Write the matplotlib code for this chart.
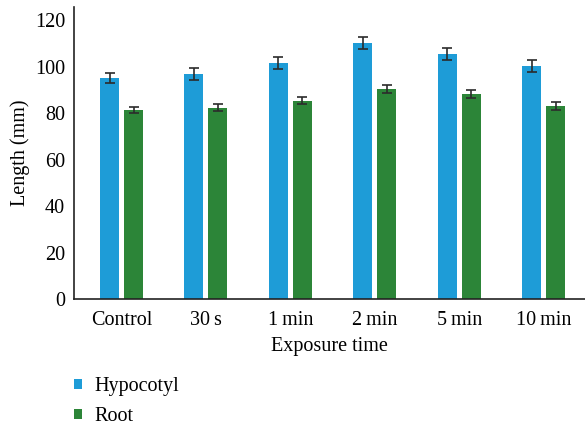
import matplotlib
matplotlib.use("Agg")
import matplotlib.pyplot as plt
import numpy as np

categories = ["Control", "30\u2009s", "1\u2009min", "2\u2009min", "5\u2009min", "10\u2009min"]
hypocotyl = [95.0, 96.8, 101.5, 110.1, 105.4, 100.2]
hypocotyl_err = [2.3, 2.4, 2.5, 2.7, 2.7, 2.5]
root = [81.3, 82.2, 85.2, 90.3, 88.2, 83.0]
root_err = [1.5, 1.5, 1.5, 1.6, 1.6, 1.6]
series_names = ["Hypocotyl", "Root"]
yticks = [0, 20, 40, 60, 80, 100, 120]

plt.rcParams['font.family'] = ['Liberation Serif', 'DejaVu Serif']
FS = 14.5

fig = plt.figure(figsize=(5.85, 4.25), dpi=100)
ax = fig.add_axes([74/585, (425-299)/425, 1 - 74/585, (299-7)/425])

x = np.arange(len(categories))
w = 0.225
off = 0.142
blue = "#1e9cd7"
green = "#2c8538"
ekw = dict(ecolor="#2b2b2b", elinewidth=1.2, capsize=3.3, capthick=1.2)
b1 = ax.bar(x - off, hypocotyl, w, yerr=hypocotyl_err, color=blue, label=series_names[0], error_kw=ekw)
b2 = ax.bar(x + off, root, w, yerr=root_err, color=green, label=series_names[1], error_kw=ekw)

ax.set_xlim(-0.563, 5.49)
ax.set_ylim(0, 125.6)
ax.set_yticks(yticks)
ax.set_yticklabels([str(v) for v in yticks], fontsize=FS)
ax.set_xticks(x)
ax.set_xticklabels(categories, fontsize=FS)
ax.tick_params(axis='both', length=0)
ax.tick_params(axis='y', pad=6.5)
ax.tick_params(axis='x', pad=8.5)
for s in ["top", "right"]:
    ax.spines[s].set_visible(False)
for s in ["left", "bottom"]:
    ax.spines[s].set_color("#222222")
    ax.spines[s].set_linewidth(1.2)
ax.set_xlabel("Exposure time", fontsize=FS, labelpad=5)
ax.set_ylabel("Length (mm)", fontsize=FS, labelpad=3.5)

fig.legend(handles=[b1, b2], labels=series_names, loc="upper left",
           bbox_to_anchor=(74/585, 0.113), frameon=False, fontsize=FS,
           handlelength=0.4, handleheight=0.4, handletextpad=0.6,
           labelspacing=0.55, borderpad=0, borderaxespad=0)

fig.savefig("out.png", dpi=100)
